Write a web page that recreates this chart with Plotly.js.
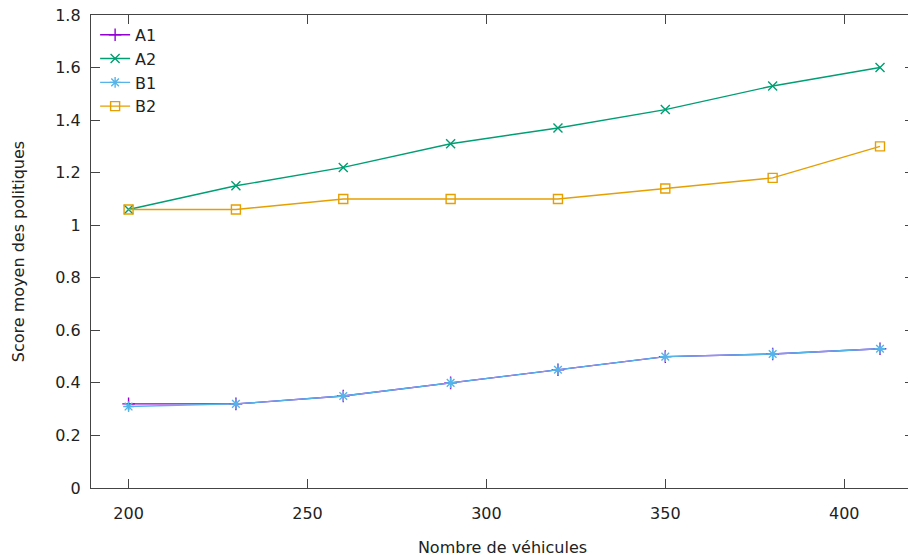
<!DOCTYPE html>
<html>
<head>
<meta charset="utf-8">
<script src="https://cdn.plot.ly/plotly-3.0.1.min.js"></script>
<style>
html, body { margin: 0; padding: 0; overflow: hidden; background: #fff; }
#chart { width: 914px; height: 557px; }
</style>
</head>
<body>
<div id="chart"></div>
<script>
const vehicles = [200, 230, 260, 290, 320, 350, 380, 410];
const seriesA1 = [0.32, 0.32, 0.35, 0.40, 0.45, 0.50, 0.51, 0.53];
const seriesA2 = [1.06, 1.15, 1.22, 1.31, 1.37, 1.44, 1.53, 1.60];
const seriesB1 = [0.31, 0.32, 0.35, 0.40, 0.45, 0.50, 0.51, 0.53];
const seriesB2 = [1.06, 1.06, 1.10, 1.10, 1.10, 1.14, 1.18, 1.30];
const seriesNames = ['A1', 'A2', 'B1', 'B2'];
const xTicks = [200, 250, 300, 350, 400];

const colors = ['#9400d3', '#009e73', '#56b4e9', '#e69f00'];
const symbols = ['cross-thin-open', 'x-thin-open', 'asterisk-open', 'square-open'];
const values = [seriesA1, seriesA2, seriesB1, seriesB2];

const traces = values.map((v, i) => ({
  x: vehicles,
  y: v,
  name: seriesNames[i],
  type: 'scatter',
  mode: 'lines+markers',
  line: { color: colors[i], width: 1.4 },
  marker: { symbol: symbols[i], size: 9, color: colors[i], line: { color: colors[i], width: 1.4 } }
}));

const font = { family: 'DejaVu Sans, sans-serif', size: 16, color: '#222' };

const layout = {
  width: 914,
  height: 557,
  margin: { l: 91, r: 0, t: 15, b: 69 },
  paper_bgcolor: '#fff',
  plot_bgcolor: '#fff',
  font: font,
  showlegend: true,
  legend: {
    x: 0.005, y: 0.994, xanchor: 'left', yanchor: 'top',
    bgcolor: 'rgba(0,0,0,0)',
    font: { family: 'DejaVu Sans, sans-serif', size: 16, color: '#222' },
    tracegroupgap: 0
  },
  xaxis: {
    range: [189.5, 419.5],
    tickvals: xTicks,
    ticktext: xTicks.map(String),
    ticks: 'inside',
    ticklen: 9,
    tickcolor: '#444',
    showline: true,
    linecolor: '#444',
    linewidth: 1.2,
    mirror: 'ticks',
    showgrid: false,
    zeroline: false,
    ticklabelstandoff: 11,
    title: { text: 'Nombre de véhicules', font: font, standoff: 19 }
  },
  yaxis: {
    range: [0, 1.8],
    dtick: 0.2,
    tick0: 0,
    ticks: 'inside',
    ticklen: 9,
    tickcolor: '#444',
    showline: true,
    linecolor: '#444',
    linewidth: 1.2,
    mirror: 'ticks',
    showgrid: false,
    zeroline: false,
    ticklabelstandoff: 6,
    title: { text: 'Score moyen des politiques', font: font, standoff: 26 }
  }
};

Plotly.newPlot('chart', traces, layout, { displayModeBar: false, staticPlot: true });
</script>
</body>
</html>
